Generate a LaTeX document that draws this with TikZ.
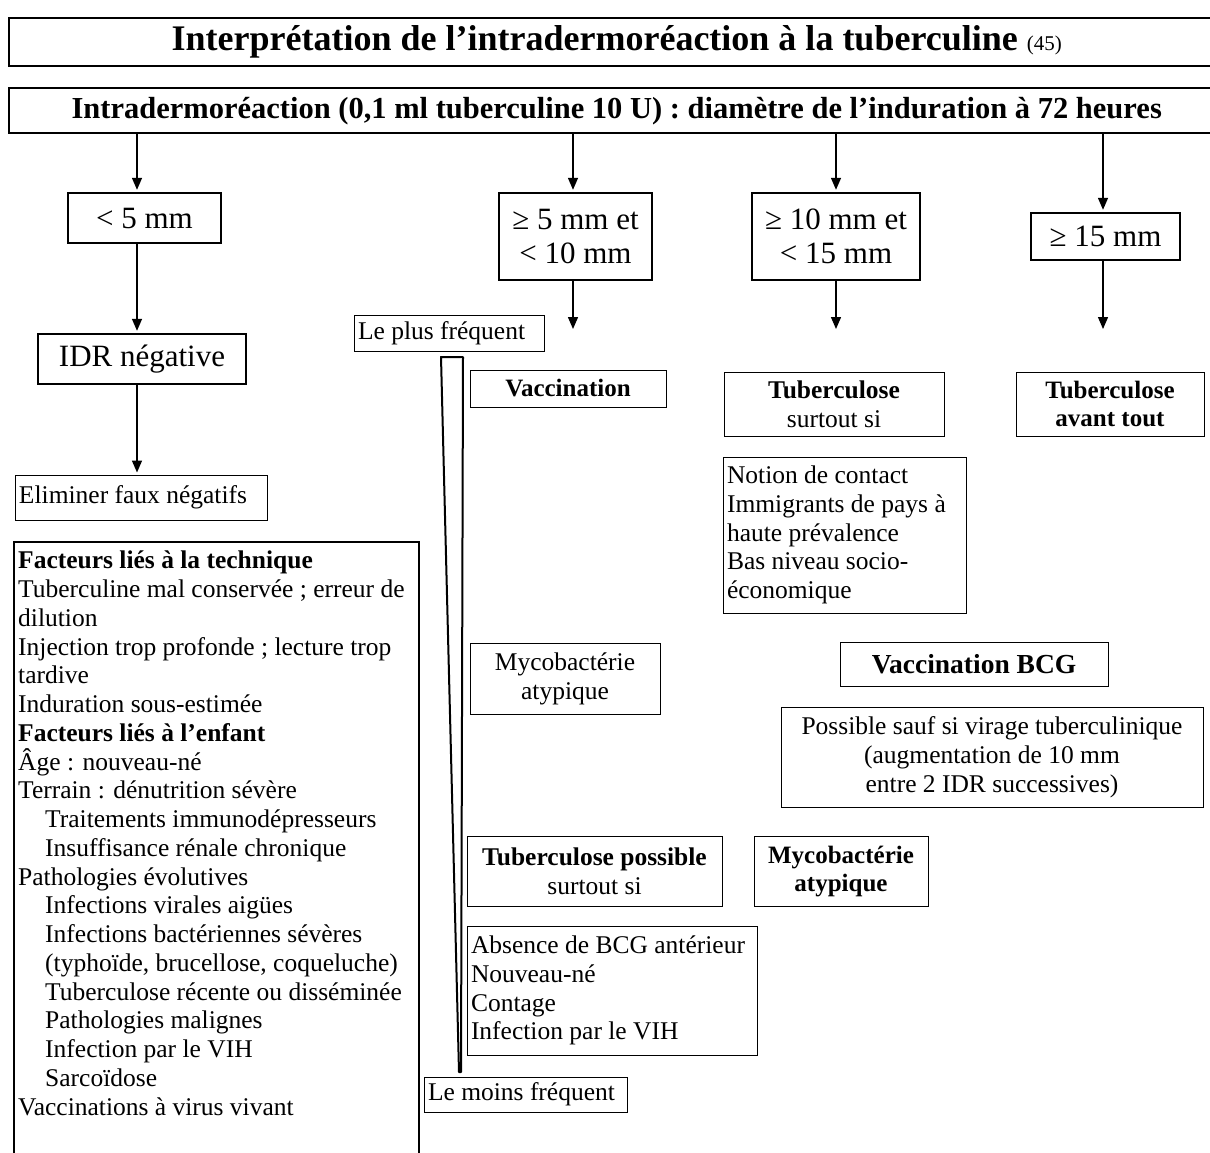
\documentclass[tikz,border=0pt]{standalone}
\usepackage{fontspec}
\setmainfont{Liberation Serif}
\usetikzlibrary{arrows.meta}
\begin{document}
\begin{tikzpicture}[x=1pt,y=-1pt,
  thickbox/.style={draw, line width=2.4pt, inner sep=0pt, align=center},
  thinbox/.style={draw, line width=1pt, inner sep=0pt, align=center},
  body/.style={font=\fontsize{25.5}{28.75}\selectfont},
  bigtxt/.style={font=\fontsize{31}{34}\selectfont},
  bbody/.style={font=\bfseries\fontsize{25}{28}\selectfont},
  arr/.style={-{Triangle[width=10pt,length=12pt]}, line width=1.4pt, shorten >=2pt},
]
\useasboundingbox (0,0) rectangle (1210,1152);

% headers
\node[thickbox, minimum width=1215pt, minimum height=48pt, anchor=north west] (title) at (8,17)
  {\fontsize{36}{40}\selectfont\bfseries Interprétation de l’intradermoréaction à la tuberculine \fontsize{21}{24}\selectfont\mdseries (45)};
\node[thickbox, minimum width=1215pt, minimum height=45pt, anchor=north west] (hdr) at (8,87)
  {\fontsize{30.5}{34}\selectfont\bfseries Intradermoréaction (0,1 ml tuberculine 10 U) : diamètre de l’induration à 72 heures};

% column coordinates
\coordinate (c1) at (137,0);
\coordinate (c2) at (573,0);
\coordinate (c3) at (836,0);
\coordinate (c4) at (1103,0);

% threshold boxes
\node[thickbox, bigtxt, minimum width=153pt, minimum height=50pt] (lt5) at (144.5,218) {< 5 mm};
\node[thickbox, bigtxt, minimum width=153pt, minimum height=87pt] (ge5) at (575.5,236.5) {≥ 5 mm et\\< 10 mm};
\node[thickbox, bigtxt, minimum width=168pt, minimum height=87pt] (ge10) at (836,236.5) {≥ 10 mm et\\< 15 mm};
\node[thickbox, bigtxt, minimum width=149pt, minimum height=47pt] (ge15) at (1105.5,236.5) {≥ 15 mm};

\draw[arr] (hdr.south -| c1) -- (lt5.north -| c1);
\draw[arr] (hdr.south -| c2) -- (ge5.north -| c2);
\draw[arr] (hdr.south -| c3) -- (ge10.north -| c3);
\draw[arr] (hdr.south -| c4) -- (ge15.north -| c4);

% left column
\node[thickbox, bigtxt, minimum width=208pt, minimum height=50pt] (idr) at (142,359) {IDR négative};
\node[thinbox, body, minimum width=252pt, minimum height=45pt, text width=244pt, align=flush left] (elim) at (141,497.5) {Eliminer faux négatifs};
\draw[arr] (lt5.south -| c1) -- (idr.north -| c1);
\draw[arr] (idr.south -| c1) -- (elim.north -| c1);

\node[thickbox, minimum width=405pt, minimum height=640pt, anchor=north west] (fact) at (13,541) {};
\node[body, align=left, anchor=north west, inner sep=0pt] (facttxt) at (18,551) {%
\textbf{Facteurs liés à la technique}\\
Tuberculine mal conservée ; erreur de\\
dilution\\
Injection trop profonde ; lecture trop\\
tardive\\
Induration sous-estimée\\
\textbf{Facteurs liés à l’enfant}\\
Âge : nouveau-né\\
Terrain : dénutrition sévère\\
\hspace*{27pt}Traitements immunodépresseurs\\
\hspace*{27pt}Insuffisance rénale chronique\\
Pathologies évolutives\\
\hspace*{27pt}Infections virales aigües\\
\hspace*{27pt}Infections bactériennes sévères\\
\hspace*{27pt}(typhoïde, brucellose, coqueluche)\\
\hspace*{27pt}Tuberculose récente ou disséminée\\
\hspace*{27pt}Pathologies malignes\\
\hspace*{27pt}Infection par le VIH\\
\hspace*{27pt}Sarcoïdose\\
Vaccinations à virus vivant};

% frequency scale
\node[thinbox, body, minimum width=190pt, minimum height=36pt, text width=182pt, align=flush left] (plus) at (449,333) {Le plus fréquent};
\node[thinbox, body, minimum width=203pt, minimum height=35pt, text width=195pt, align=flush left] (moins) at (525.5,1094.5) {Le moins fréquent};
\draw[line width=2pt, line join=round] (441,357) -- (463,357) -- (461,1072) -- (459,1072) -- cycle;

% arrows to free ends
\coordinate (e2) at (573,329);
\coordinate (e3) at (836,329);
\coordinate (e4) at (1103,329);
\draw[arr, shorten >=0pt] (ge5.south -| c2) -- (e2);
\draw[arr, shorten >=0pt] (ge10.south -| c3) -- (e3);
\draw[arr, shorten >=0pt] (ge15.south -| c4) -- (e4);

% outcome boxes
\node[thinbox, bbody, minimum width=196pt, minimum height=37pt] (vacc) at (568,388.5) {Vaccination};
\node[thinbox, body, minimum width=220pt, minimum height=64pt] (tub1) at (834,404) {\textbf{Tuberculose}\\surtout si};
\node[thinbox, bbody, minimum width=188pt, minimum height=64pt] (tub2) at (1110,404) {Tuberculose\\avant tout};
\node[thinbox, body, minimum width=243pt, minimum height=156pt, text width=235pt, align=flush left] (notion) at (844.5,535)
  {Notion de contact\\Immigrants de pays à\\haute prévalence\\Bas niveau socio-\\économique};
\node[thinbox, body, minimum width=190pt, minimum height=71pt] (myco1) at (565,678.5) {Mycobactérie\\atypique};
\node[thinbox, font=\bfseries\fontsize{27.5}{30}\selectfont, minimum width=268pt, minimum height=44pt] (bcg) at (974,664) {Vaccination BCG};
\node[thinbox, body, minimum width=422pt, minimum height=100pt] (poss) at (992,757)
  {Possible sauf si virage tuberculinique\\(augmentation de 10 mm\\entre 2 IDR successives)};
\node[thinbox, body, minimum width=255pt, minimum height=70pt] (tubp) at (594.5,871) {\textbf{Tuberculose possible}\\surtout si};
\node[thinbox, bbody, minimum width=174pt, minimum height=70pt] (myco2) at (841,871) {Mycobactérie\\atypique};
\node[thinbox, body, minimum width=290pt, minimum height=129pt, text width=282pt, align=flush left] (abs) at (612,990.5)
  {Absence de BCG antérieur\\Nouveau-né\\Contage\\Infection par le VIH};
\end{tikzpicture}
\end{document}
